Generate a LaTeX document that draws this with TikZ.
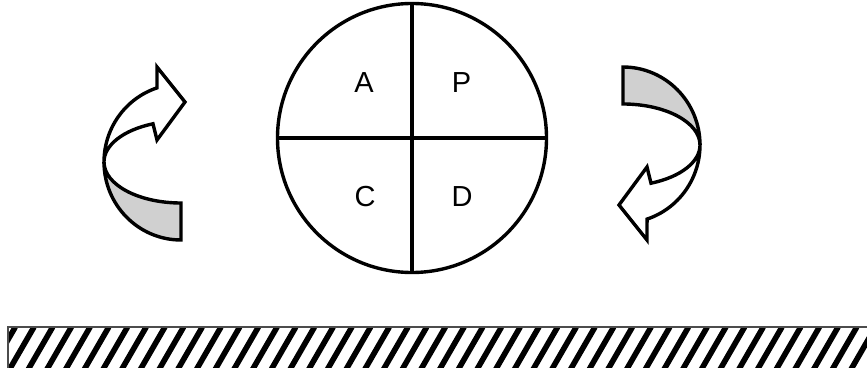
\documentclass[tikz,border=0pt]{standalone}
\usepackage{fontspec}
\setmainfont{Liberation Sans}
\definecolor{bandgray}{RGB}{208,208,208}
\tikzset{
  outline/.style={line width=3.4pt, line join=miter, miter limit=4},
  letter/.style={font=\fontsize{29}{29}\selectfont, inner sep=0pt},
  pics/twistarrow/.style={code={
    \path[outline, draw, fill=bandgray] (0,-78) -- (0,-41)
      arc[start angle=270, end angle=180, x radius=77, y radius=41]
      arc[start angle=180, end angle=270, x radius=77, y radius=78] -- cycle;
    \path[outline, draw, fill=white] (-77,0)
      arc[start angle=180, end angle=108.2, x radius=77, y radius=78]
      -- (-24,95) -- (4,60) -- (-24,22) -- (-28,38.2)
      arc[start angle=111.3, end angle=180, x radius=77, y radius=41] -- cycle;
  }}
}
\begin{document}
\begin{tikzpicture}[x=1pt,y=1pt]
\useasboundingbox (0,0) rectangle (867,367);
% cycle circle
\node[circle, draw, outline, minimum size=269pt, inner sep=0pt] (cyc) at (412,229) {};
\draw[outline] (cyc.north) -- (cyc.south);
\draw[outline] (cyc.west) -- (cyc.east);
\node[letter] (la) at (364,284.5) {A};
\node[letter] (lp) at (461.5,284.5) {P};
\node[letter] (lc) at (365,170) {C};
\node[letter] (ld) at (462,170) {D};
% curved arrows
\pic at (181,205) {twistarrow};
\pic[rotate=180] at (623,222) {twistarrow};
% hatched bar
\begin{scope}
  \clip (8,-5) rectangle (880,40);
  \foreach \i in {-3,...,48} \draw[line width=5.6pt] ({8+\i*18.7},-5) -- ++(26,45);
\end{scope}
\draw[line width=1.4pt, gray!60!black] (8,-5) rectangle (880,40);
\end{tikzpicture}
\end{document}
